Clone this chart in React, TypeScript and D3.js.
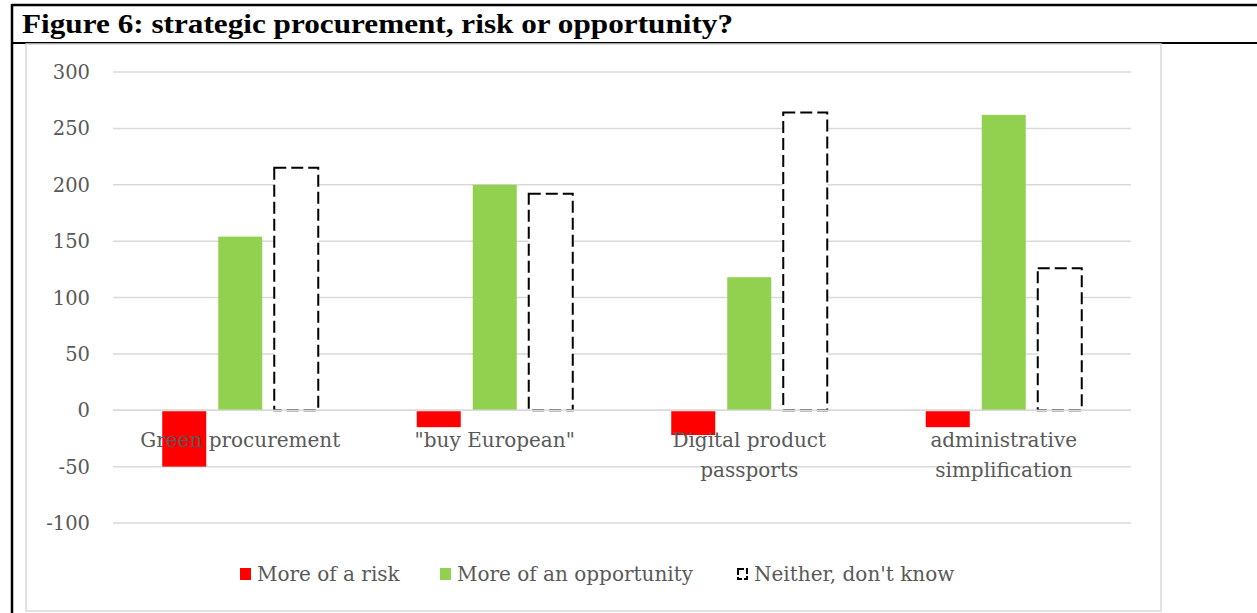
import React from "react";
import * as d3 from "d3";

const categories = [["Green procurement"], ['"buy European"'], ["Digital product", "passports"], ["administrative", "simplification"]];
const categoryKeys = ["Green procurement", '"buy European"', "Digital product passports", "administrative simplification"];
const seriesNames = ["More of a risk", "More of an opportunity", "Neither, don't know"];
const riskValues = [-50, -15, -22, -15];
const opportunityValues = [154, 200, 118, 262];
const neitherValues = [215, 192, 264, 126];
const yTicks = [-100, -50, 0, 50, 100, 150, 200, 250, 300];

const W = 1257;
const H = 613;
const labelColor = "#595959";
const catFont = "'DejaVu Serif', serif";

export default function App() {
  const y = d3.scaleLinear().domain([-100, 300]).range([523, 72]);
  const x0 = d3.scaleBand<string>().domain(categoryKeys).range([113, 1131]);
  const x1 = d3.scaleBand<string>().domain(seriesNames).range([0, 156]).paddingInner(12 / 56);
  const seriesData = [riskValues, opportunityValues, neitherValues];
  const colors = ["#ff0000", "#92d050", "#ffffff"];

  const groupStart = (c: string) => (x0(c) as number) + x0.bandwidth() / 2 - 78;

  const legendItems = [
    { name: seriesNames[0], x: 240 },
    { name: seriesNames[1], x: 440 },
    { name: seriesNames[2], x: 737 },
  ];

  return (
    <svg width={W} height={H} style={{ position: "absolute", left: 0, top: 0, background: "#fff" }}>
      {/* outer frame */}
      <line x1={12} x2={W} y1={5} y2={5} stroke="#000" strokeWidth={2.5} />
      <line x1={12} x2={12} y1={4} y2={H} stroke="#000" strokeWidth={2.5} />
      <line x1={12} x2={W} y1={43} y2={43} stroke="#000" strokeWidth={2} />
      <text x={22} y={33} fontFamily="'Liberation Serif', serif" fontWeight="bold" fontSize={27} fill="#000" textLength={711} lengthAdjust="spacingAndGlyphs">
        Figure 6: strategic procurement, risk or opportunity?
      </text>
      {/* chart area border */}
      <rect x={26} y={44} width={1135} height={567} fill="none" stroke="#d9d9d9" strokeWidth={1.5} />

      {/* gridlines */}
      {yTicks.map((t) => (
        <line key={t} x1={113} x2={1131} y1={y(t)} y2={y(t)} stroke="#d9d9d9" strokeWidth={1.5} />
      ))}
      {yTicks.map((t) => (
        <text key={"l" + t} x={90} y={y(t) + 7} textAnchor="end" fontFamily={catFont} fontSize={19.5} fill={labelColor}>
          {t}
        </text>
      ))}

      {/* bars */}
      {seriesData.map((vals, si) =>
        vals.map((v, ci) => {
          const c = categoryKeys[ci];
          const bx = groupStart(c) + (x1(seriesNames[si]) as number);
          const top = Math.min(y(v), y(0));
          const h = Math.abs(y(v) - y(0));
          if (si === 2) {
            return (
              <rect key={si + "-" + ci} x={bx} y={top} width={x1.bandwidth()} height={h} fill="#fff" stroke="#000" strokeWidth={2} strokeDasharray="12 5" />
            );
          }
          return <rect key={si + "-" + ci} x={bx} y={si === 0 ? top + 1 : top} width={x1.bandwidth()} height={si === 0 ? h - 1 : h} fill={colors[si]} />;
        })
      )}
      {/* zero line on top */}
      <line x1={113} x2={1131} y1={y(0)} y2={y(0)} stroke="#d9d9d9" strokeWidth={1.5} />

      {/* category labels (on top of bars) */}
      {categories.map((lines, i) => {
        const c = categoryKeys[i];
        const cx = (x0(c) as number) + x0.bandwidth() / 2;
        return (
          <text key={c} textAnchor="middle" fontFamily={catFont} fontSize={20} fill={labelColor}>
            {lines.map((ln, j) => (
              <tspan key={j} x={cx} y={447 + j * 30}>
                {ln}
              </tspan>
            ))}
          </text>
        );
      })}

      {/* legend */}
      {legendItems.map((it, i) => (
        <g key={it.name}>
          {i < 2 ? (
            <rect x={it.x} y={568} width={11} height={12} fill={colors[i]} />
          ) : (
            <rect x={it.x + 1} y={569} width={9} height={10} fill="#fff" stroke="#000" strokeWidth={2} strokeDasharray="6 2" />
          )}
          <text x={it.x + 17} y={581} fontFamily={catFont} fontSize={20} fill={labelColor}>
            {it.name}
          </text>
        </g>
      ))}
    </svg>
  );
}
